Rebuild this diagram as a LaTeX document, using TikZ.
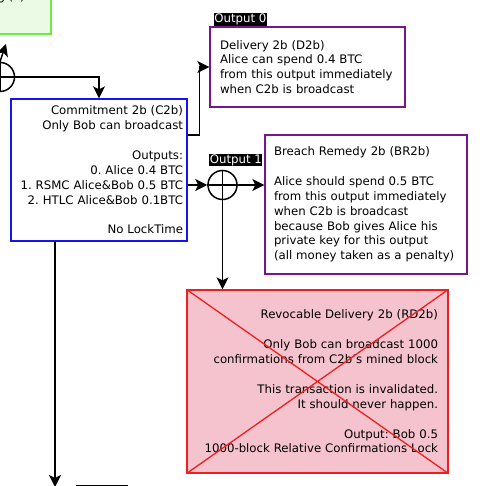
\documentclass[tikz,border=0pt]{standalone}
\usepackage{fontspec}
\setmainfont{DejaVu Sans}
\usepackage{xcolor}
\usetikzlibrary{arrows.meta, positioning}

\definecolor{fundgreen}{RGB}{102,240,60}
\definecolor{fundfill}{RGB}{234,250,228}
\definecolor{commblue}{RGB}{20,20,235}
\definecolor{outpurple}{RGB}{120,20,140}
\definecolor{revred}{RGB}{240,30,30}
\definecolor{revfill}{RGB}{245,195,205}
\frenchspacing

\begin{document}
\begin{tikzpicture}[x=1pt, y=-1pt,
		txbox/.style={draw, line width=1.3pt, inner sep=0pt, font=\fontsize{11.75}{14.9}\selectfont},
		outlabel/.style={fill=black, text=white, inner sep=0.6pt, anchor=south west, font=\fontsize{11.75}{14.9}\selectfont},
		xorgate/.style={circle, draw, line width=1.5pt, minimum size=29pt, inner sep=0pt},
		link/.style={line width=1.5pt, -{Stealth[length=12pt, width=12pt, inset=3pt]}},
		plain/.style={line width=1.5pt}]
			\useasboundingbox (0,0) rectangle (500,486);
			\clip (0,0) rectangle (500,486);
			
			\node[txbox, draw=fundgreen, fill=fundfill, minimum width=119pt, minimum height=73.4pt] (fund) at (-8.5,-2.7) {Funding (F)};
			\node[xorgate] (xor0) at (0,77) {};
			\coordinate (fundin) at (6,44);
			
			\node[txbox, draw=commblue, minimum width=176pt, minimum height=142pt, text width=168pt, align=right] (c2b) at (99,170) {Commitment 2b (C2b)\\Only Bob can broadcast\\[14.9pt]Outputs:\\0. Alice 0.4 BTC\\1. RSMC Alice\&Bob 0.5 BTC\\2. HTLC Alice\&Bob 0.1BTC\\[14.9pt]No LockTime};
			
			\node[txbox, draw=outpurple, minimum width=195pt, minimum height=80pt, text width=175pt, align=left] (d2b) at (307.5,67) {Delivery 2b (D2b)\\Alice can spend 0.4 BTC\\from this output immediately\\when C2b is broadcast};
			\node[outlabel] (out0) at (213.5,26) {Output 0};
			
			\node[xorgate] (xor1) at (222.5,185) {};
			\node[outlabel] (out1) at (209,166.5) {Output 1};
			
			\node[txbox, draw=outpurple, minimum width=202pt, minimum height=139pt, text width=184pt, align=left] (br2b) at (366,204.5) {Breach Remedy 2b (BR2b)\\[14.9pt]Alice should spend 0.5 BTC\\from this output immediately\\when C2b is broadcast\\because Bob gives Alice his\\private key for this output\\(all money taken as a penalty)};
			
			\node[txbox, draw=revred, fill=revfill, minimum width=261pt, minimum height=183pt, text width=241pt, align=right] (rd2b) at (317.5,381.5) {Revocable Delivery 2b (RD2b)\\[14.9pt]Only Bob can broadcast 1000\\confirmations from C2b's mined block\\[14.9pt]This transaction is invalidated.\\It should never happen.\\[14.9pt]Output: Bob 0.5\\1000-block Relative Confirmations Lock};
			\draw[revred, line width=1.3pt] (rd2b.north west) -- (rd2b.south east) (rd2b.south west) -- (rd2b.north east);
			
			\coordinate (c2bnext) at (55,487);
			\node[fill=black, minimum width=52pt, minimum height=13pt, inner sep=0pt, anchor=north west] (out2) at (76,484.5) {};
			
			\draw[plain] (xor0.west) -- (xor0.east) (xor0.north) -- (xor0.south);
			\draw[link] (xor0.north) -- (fundin);
			\draw[link] (xor0.east) -| (c2b.north);
			
			\draw[link] ([yshift=35pt]c2b.east) -- ++(12,0) |- (d2b.west);
			\draw[link] (c2b.east |- xor1) -- (xor1.west);
			\draw[plain] (xor1.west) -- (xor1.east) (xor1.north) -- (xor1.south);
			\draw[link] (xor1.east) -- (xor1.east -| br2b.west);
			\draw[link] (xor1.south) -- (xor1.south |- rd2b.north);
			\draw[link] (c2bnext |- c2b.south) -- (c2bnext);
		\end{tikzpicture}
\end{document}
